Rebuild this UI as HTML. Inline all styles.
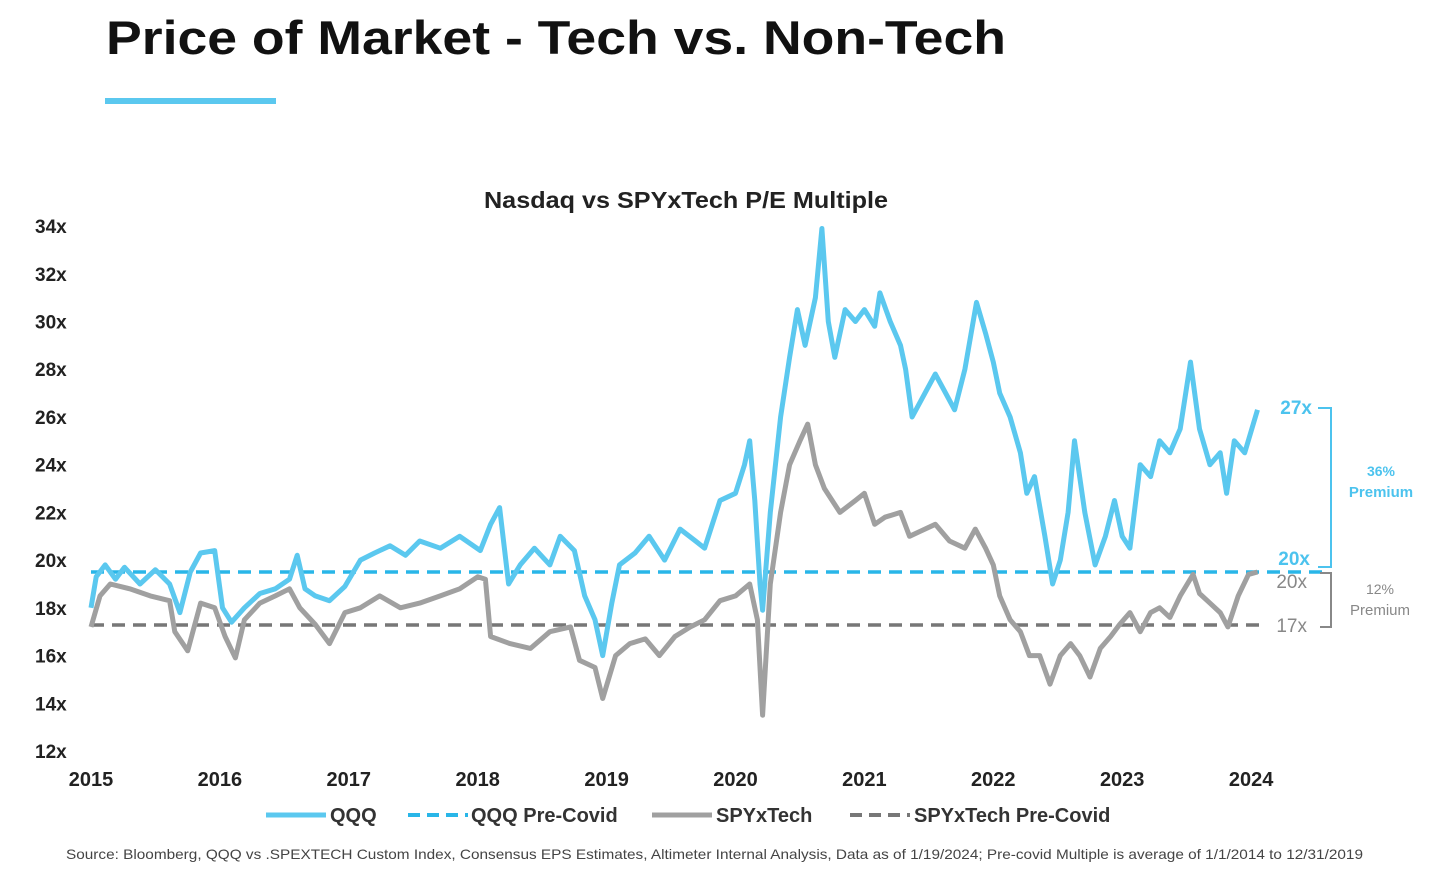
<!DOCTYPE html>
<html><head><meta charset="utf-8"><style>
body{margin:0;background:#fff;width:1456px;height:889px;overflow:hidden;font-family:"Liberation Sans",sans-serif}
</style></head><body>
<svg width="1456" height="889" xmlns="http://www.w3.org/2000/svg" style="font-family:'Liberation Sans',sans-serif">
<text x="106" y="54" font-size="47" font-weight="bold" fill="#111" textLength="900" lengthAdjust="spacingAndGlyphs">Price of Market - Tech vs. Non-Tech</text>
<rect x="105" y="98" width="171" height="6" fill="#5bc8ef"/>
<text x="484" y="208" font-size="23" font-weight="bold" fill="#222" textLength="404" lengthAdjust="spacingAndGlyphs">Nasdaq vs SPYxTech P/E Multiple</text>
<g id="yaxis"></g><g id="xaxis"></g><g id="refs"></g><g id="series"></g>
<g font-weight="bold">
<text x="1312" y="414" font-size="19" fill="#4cc3ee" text-anchor="end">27x</text>
<text x="1310" y="565" font-size="19" fill="#4cc3ee" text-anchor="end">20x</text>
<path d="M1318 408H1331V567H1318" fill="none" stroke="#4cc3ee" stroke-width="2"/>
<text x="1381" y="476" font-size="14" fill="#4cc3ee" text-anchor="middle">36%</text>
<text x="1381" y="497" font-size="15" fill="#4cc3ee" text-anchor="middle">Premium</text>
<text x="1307" y="588" font-size="19" fill="#888" text-anchor="end" font-weight="normal">20x</text>
<text x="1307" y="632" font-size="19" fill="#888" text-anchor="end" font-weight="normal">17x</text>
<path d="M1320 573H1331V627H1320" fill="none" stroke="#888" stroke-width="2"/>
<text x="1380" y="594" font-size="14" fill="#888" text-anchor="middle" font-weight="normal">12%</text>
<text x="1380" y="615" font-size="15" fill="#888" text-anchor="middle" font-weight="normal">Premium</text>
</g>
<g font-size="20" font-weight="bold" fill="#333">
<g><line x1="266" y1="815" x2="326" y2="815" stroke="#5bc8ef" stroke-width="5"/><text x="330" y="822">QQQ</text></g>
<g><line x1="408" y1="815" x2="468" y2="815" stroke="#29b6e8" stroke-width="4" stroke-dasharray="12 7"/><text x="471" y="822">QQQ Pre-Covid</text></g>
<g><line x1="652" y1="815" x2="712" y2="815" stroke="#a0a0a0" stroke-width="5"/><text x="716" y="822">SPYxTech</text></g>
<g><line x1="850" y1="815" x2="910" y2="815" stroke="#777" stroke-width="4" stroke-dasharray="12 7"/><text x="914" y="822">SPYxTech Pre-Covid</text></g>
</g>
<text x="66" y="859" font-size="14" fill="#444" textLength="1297" lengthAdjust="spacingAndGlyphs">Source: Bloomberg, QQQ vs .SPEXTECH Custom Index, Consensus EPS Estimates,  Altimeter Internal Analysis, Data as of 1/19/2024; Pre-covid Multiple is average of 1/1/2014 to 12/31/2019</text>
</svg>
<script>
const yTicks=[12,14,16,18,20,22,24,26,28,30,32,34];
const xTicks=[2015,2016,2017,2018,2019,2020,2021,2022,2023,2024];
const qqqT=[0,.04,.11,.19,.26,.38,.50,.61,.69,.77,.85,.96,1.02,1.09,1.19,1.31,1.43,1.54,1.60,1.66,1.74,1.85,1.97,2.09,2.20,2.32,2.44,2.55,2.71,2.86,3.02,3.10,3.17,3.24,3.33,3.44,3.56,3.64,3.75,3.83,3.91,3.97,4.04,4.10,4.22,4.33,4.45,4.57,4.69,4.76,4.88,5.00,5.07,5.11,5.15,5.19,5.21,5.27,5.35,5.42,5.48,5.54,5.62,5.67,5.72,5.77,5.85,5.93,6.00,6.08,6.12,6.20,6.28,6.32,6.37,6.47,6.55,6.63,6.70,6.78,6.87,6.94,7.00,7.05,7.13,7.21,7.26,7.32,7.40,7.46,7.52,7.58,7.63,7.71,7.79,7.87,7.94,8.00,8.06,8.14,8.22,8.29,8.37,8.45,8.53,8.60,8.68,8.76,8.81,8.87,8.95,9.05];
const qqqV=[18.0,19.3,19.8,19.2,19.7,19.0,19.6,19.0,17.8,19.5,20.3,20.4,18.0,17.4,18.0,18.6,18.8,19.2,20.2,18.8,18.5,18.3,18.9,20.0,20.3,20.6,20.2,20.8,20.5,21.0,20.4,21.5,22.2,19.0,19.8,20.5,19.8,21.0,20.4,18.5,17.5,16.0,18.2,19.8,20.3,21.0,20.0,21.3,20.8,20.5,22.5,22.8,24.0,25.0,22.5,19.0,17.9,22.0,26.0,28.5,30.5,29.0,31.0,33.9,30.0,28.5,30.5,30.0,30.5,29.8,31.2,30.0,29.0,28.0,26.0,27.0,27.8,27.0,26.3,28.0,30.8,29.5,28.3,27.0,26.0,24.5,22.8,23.5,21.0,19.0,20.0,22.0,25.0,22.0,19.8,21.0,22.5,21.0,20.5,24.0,23.5,25.0,24.5,25.5,28.3,25.5,24.0,24.5,22.8,25.0,24.5,26.3];
const spyT=[0,.07,.15,.30,.46,.61,.65,.75,.85,.96,1.04,1.12,1.19,1.31,1.43,1.54,1.62,1.74,1.85,1.97,2.09,2.24,2.40,2.55,2.71,2.86,3.00,3.06,3.10,3.25,3.41,3.56,3.72,3.79,3.91,3.97,4.07,4.18,4.30,4.41,4.53,4.65,4.76,4.88,5.00,5.11,5.17,5.21,5.27,5.35,5.42,5.50,5.56,5.62,5.69,5.81,5.93,6.00,6.08,6.16,6.28,6.35,6.43,6.55,6.66,6.78,6.86,6.94,7.00,7.05,7.13,7.21,7.28,7.36,7.44,7.52,7.60,7.67,7.75,7.83,7.91,7.98,8.06,8.14,8.22,8.29,8.37,8.45,8.55,8.60,8.68,8.76,8.82,8.90,8.98,9.05];
const spyV=[17.2,18.5,19.0,18.8,18.5,18.3,17.0,16.2,18.2,18.0,16.8,15.9,17.5,18.2,18.5,18.8,18.0,17.3,16.5,17.8,18.0,18.5,18.0,18.2,18.5,18.8,19.3,19.2,16.8,16.5,16.3,17.0,17.2,15.8,15.5,14.2,16.0,16.5,16.7,16.0,16.8,17.2,17.5,18.3,18.5,19.0,17.5,13.5,19.0,22.0,24.0,25.0,25.7,24.0,23.0,22.0,22.5,22.8,21.5,21.8,22.0,21.0,21.2,21.5,20.8,20.5,21.3,20.5,19.8,18.5,17.5,17.0,16.0,16.0,14.8,16.0,16.5,16.0,15.1,16.3,16.8,17.3,17.8,17.0,17.8,18.0,17.6,18.5,19.4,18.6,18.2,17.8,17.2,18.5,19.4,19.5];
const qqqPre=19.5, spyPre=17.28;
const NS='http://www.w3.org/2000/svg';
const X=t=>91+t*128.9, Y=v=>751-(v-12)*23.86;
function mk(tag,at,parent){const e=document.createElementNS(NS,tag);for(const k in at)e.setAttribute(k,at[k]);document.getElementById(parent).appendChild(e);return e;}
yTicks.forEach(v=>{const e=mk('text',{x:35,y:Y(v)+7,'font-size':19,'font-weight':'bold',fill:'#222'},'yaxis');e.textContent=v+'x';

});
xTicks.forEach(y=>{const e=mk('text',{x:X(y-2015),y:786,'font-size':20,'font-weight':'bold',fill:'#222','text-anchor':'middle'},'xaxis');e.textContent=y;

});
const r1=mk('line',{x1:91,x2:1322,y1:Y(qqqPre),y2:Y(qqqPre),stroke:'#29b6e8','stroke-width':3.5,'stroke-dasharray':'13 8'},'refs');


const r2=mk('line',{x1:91,x2:1264,y1:Y(spyPre),y2:Y(spyPre),stroke:'#777','stroke-width':3.5,'stroke-dasharray':'13 8'},'refs');


function line(T,V){return T.map((t,i)=>(i?'L':'M')+X(t).toFixed(1)+' '+Y(V[i]).toFixed(1)).join('');}
const s2=mk('path',{d:line(spyT,spyV),fill:'none',stroke:'#a0a0a0','stroke-width':5,'stroke-linejoin':'round'},'series');


const s1=mk('path',{d:line(qqqT,qqqV),fill:'none',stroke:'#5bc8ef','stroke-width':5,'stroke-linejoin':'round'},'series');


</script>
</body></html>
